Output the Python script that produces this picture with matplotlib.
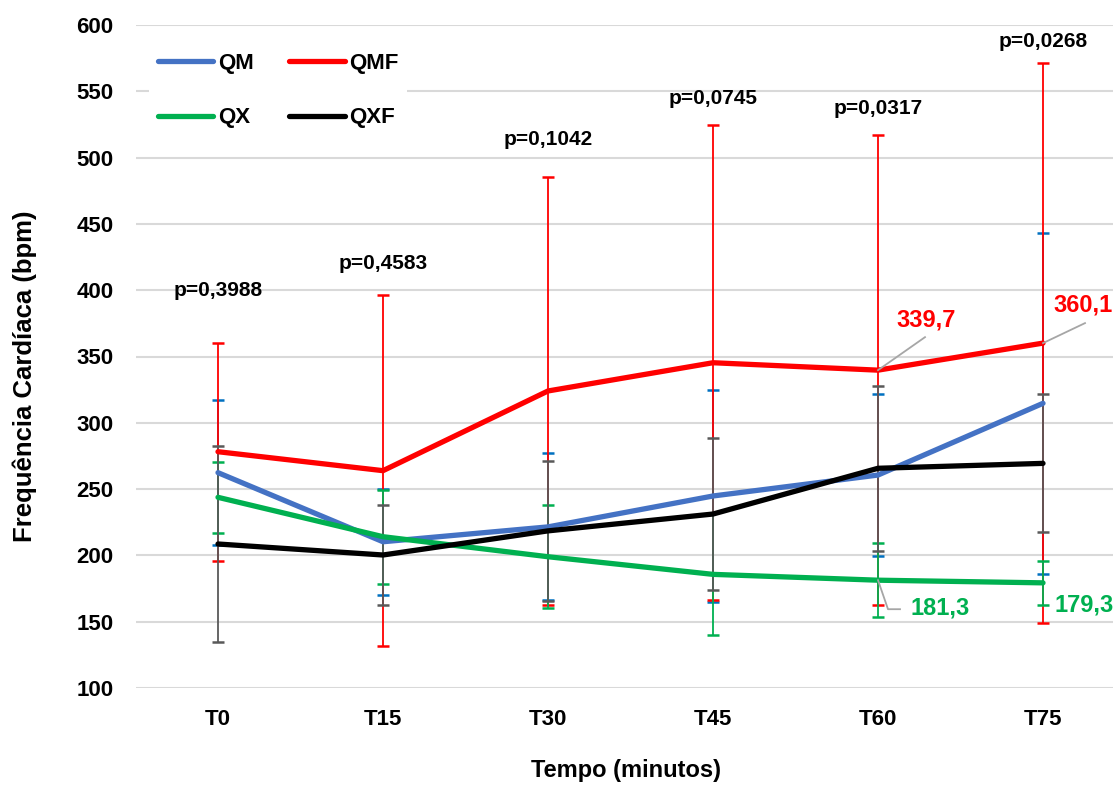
import numpy as np
import matplotlib
matplotlib.use("Agg")
import matplotlib.pyplot as plt
from matplotlib.lines import Line2D

plt.rcParams['font.family'] = ['Liberation Sans', 'DejaVu Sans']
plt.rcParams['font.weight'] = 'bold'

categories = ["T0", "T15", "T30", "T45", "T60", "T75"]
qm = [262.4, 210.3, 221.5, 244.8, 260.6, 314.7]
qmf = [278.2, 263.9, 324.0, 345.3, 339.7, 360.1]
qx = [243.8, 214.1, 199.0, 185.7, 181.3, 179.3]
qxf = [208.6, 200.3, 218.5, 231.2, 265.7, 269.4]

qm_sd = [54.5, 40.0, 55.5, 80.0, 61.0, 128.7]
qmf_sd = [82.2, 132.6, 161.2, 179.3, 177.1, 211.2]
qx_sd = [27.0, 35.3, 39.0, 46.0, 28.0, 16.7]
qxf_sd = [74.1, 37.5, 52.8, 57.0, 62.3, 52.0]

p_texts = ["p=0,3988", "p=0,4583", "p=0,1042", "p=0,0745", "p=0,0317", "p=0,0268"]
p_y = [400, 420.5, 513.3, 544.2, 537.4, 587.9]

yticks = [100, 150, 200, 250, 300, 350, 400, 450, 500, 550, 600]

W, H = 1113, 785
fig = plt.figure(figsize=(W / 100, H / 100), dpi=100)
left, right, top, bottom = 135.5, 1113, 25, 688
ax = fig.add_axes([left / W, 1 - bottom / H, (right - left) / W, (bottom - top) / H])

x = np.arange(len(categories))

# error bars
eb_specs = [
    (qm, qm_sd, "#0070C0"),
    (qmf, qmf_sd, "#FF0000"),
    (qx, qx_sd, "#00B050"),
    (qxf, qxf_sd, "#595959"),
]
for vals, sd, col in eb_specs:
    ax.errorbar(x, vals, yerr=sd, fmt='none', ecolor=col, elinewidth=1.3,
                capsize=4.3, capthick=1.8, zorder=2)

# lines
series = [("QM", qm, "#4472C4"), ("QMF", qmf, "#FF0000"),
          ("QX", qx, "#00B050"), ("QXF", qxf, "#000000")]
for name, vals, col in series:
    ax.plot(x, vals, color=col, lw=3.8, solid_capstyle='round', solid_joinstyle='round', zorder=3)

ax.set_xlim(-0.5, (right - 218) / 165.0)
ax.set_ylim(100, 600)
ax.set_yticks(yticks)
ax.set_xticks(x)
ax.set_xticklabels(categories)
ax.tick_params(axis='both', length=0, labelsize=16)
ax.tick_params(axis='y', pad=16)
ax.tick_params(axis='x', pad=15)
for lab in ax.get_xticklabels() + ax.get_yticklabels():
    lab.set_fontweight('bold')
ax.grid(axis='y', color='#D9D9D9', lw=1.5, zorder=0)
ax.set_axisbelow(True)
for s in ax.spines.values():
    s.set_visible(False)

# p-value labels
for xi, txt, yy in zip(x, p_texts, p_y):
    ax.text(xi, yy, txt, ha='center', va='center', fontsize=15, fontweight='bold', color='black', zorder=5)

# data labels with leaders
def leader(xd, yd, offs, color='#A6A6A6'):
    p0 = ax.transData.transform((xd, yd))
    pts = p0 + np.array(offs, dtype=float)
    dpts = ax.transData.inverted().transform(pts)
    ax.plot(dpts[:, 0], dpts[:, 1], color=color, lw=1.3, zorder=4, clip_on=False)

def label_at(xd, yd, off, txt, color, ha='center'):
    p0 = ax.transData.transform((xd, yd))
    pt = p0 + np.array(off, dtype=float)
    dp = ax.transData.inverted().transform(pt)
    ax.text(dp[0], dp[1], txt, ha=ha, va='center', fontsize=17, fontweight='bold',
            color=color, zorder=5, clip_on=False)

leader(4, qmf[4], [[0, 0], [47, 33]])
label_at(4, qmf[4], (48, 50), "339,7", "#FF0000")
leader(5, qmf[5], [[0, 0], [42, 20]])
label_at(5, qmf[5], (40, 38), "360,1", "#FF0000")
leader(4, qx[4], [[0, 0], [10, -29], [22, -29]])
label_at(4, qx[4], (32, -28), "181,3", "#00B050", ha='left')
label_at(5, qx[5], (12, -22), "179,3", "#00B050", ha='left')

# axis titles
fig.text(626 / W, 1 - 770 / H, "Tempo (minutos)", ha='center', va='center', fontsize=17, fontweight='bold')
fig.text(25 / W, 1 - 376 / H, "Frequência Cardíaca (bpm)", ha='center', va='center', rotation=90,
         fontsize=18.5, fontweight='bold')

# legend
handles = [Line2D([0], [0], color=c, lw=3.8, solid_capstyle='round') for _, _, c in series]
labels = [n for n, _, _ in series]
order = [0, 2, 1, 3]
leg = ax.legend([handles[i] for i in order], [labels[i] for i in order], ncol=2,
                loc='upper left', bbox_to_anchor=(0.0, 0.991), frameon=True, fancybox=False,
                edgecolor='none', facecolor='white', framealpha=1,
                prop={'size': 16, 'weight': 'bold'}, handlelength=2.5, handletextpad=0.2,
                columnspacing=1.6, labelspacing=1.49, borderpad=0.4, borderaxespad=0.6)
leg.set_zorder(6)

fig.savefig("out.png", dpi=100, facecolor='white')
